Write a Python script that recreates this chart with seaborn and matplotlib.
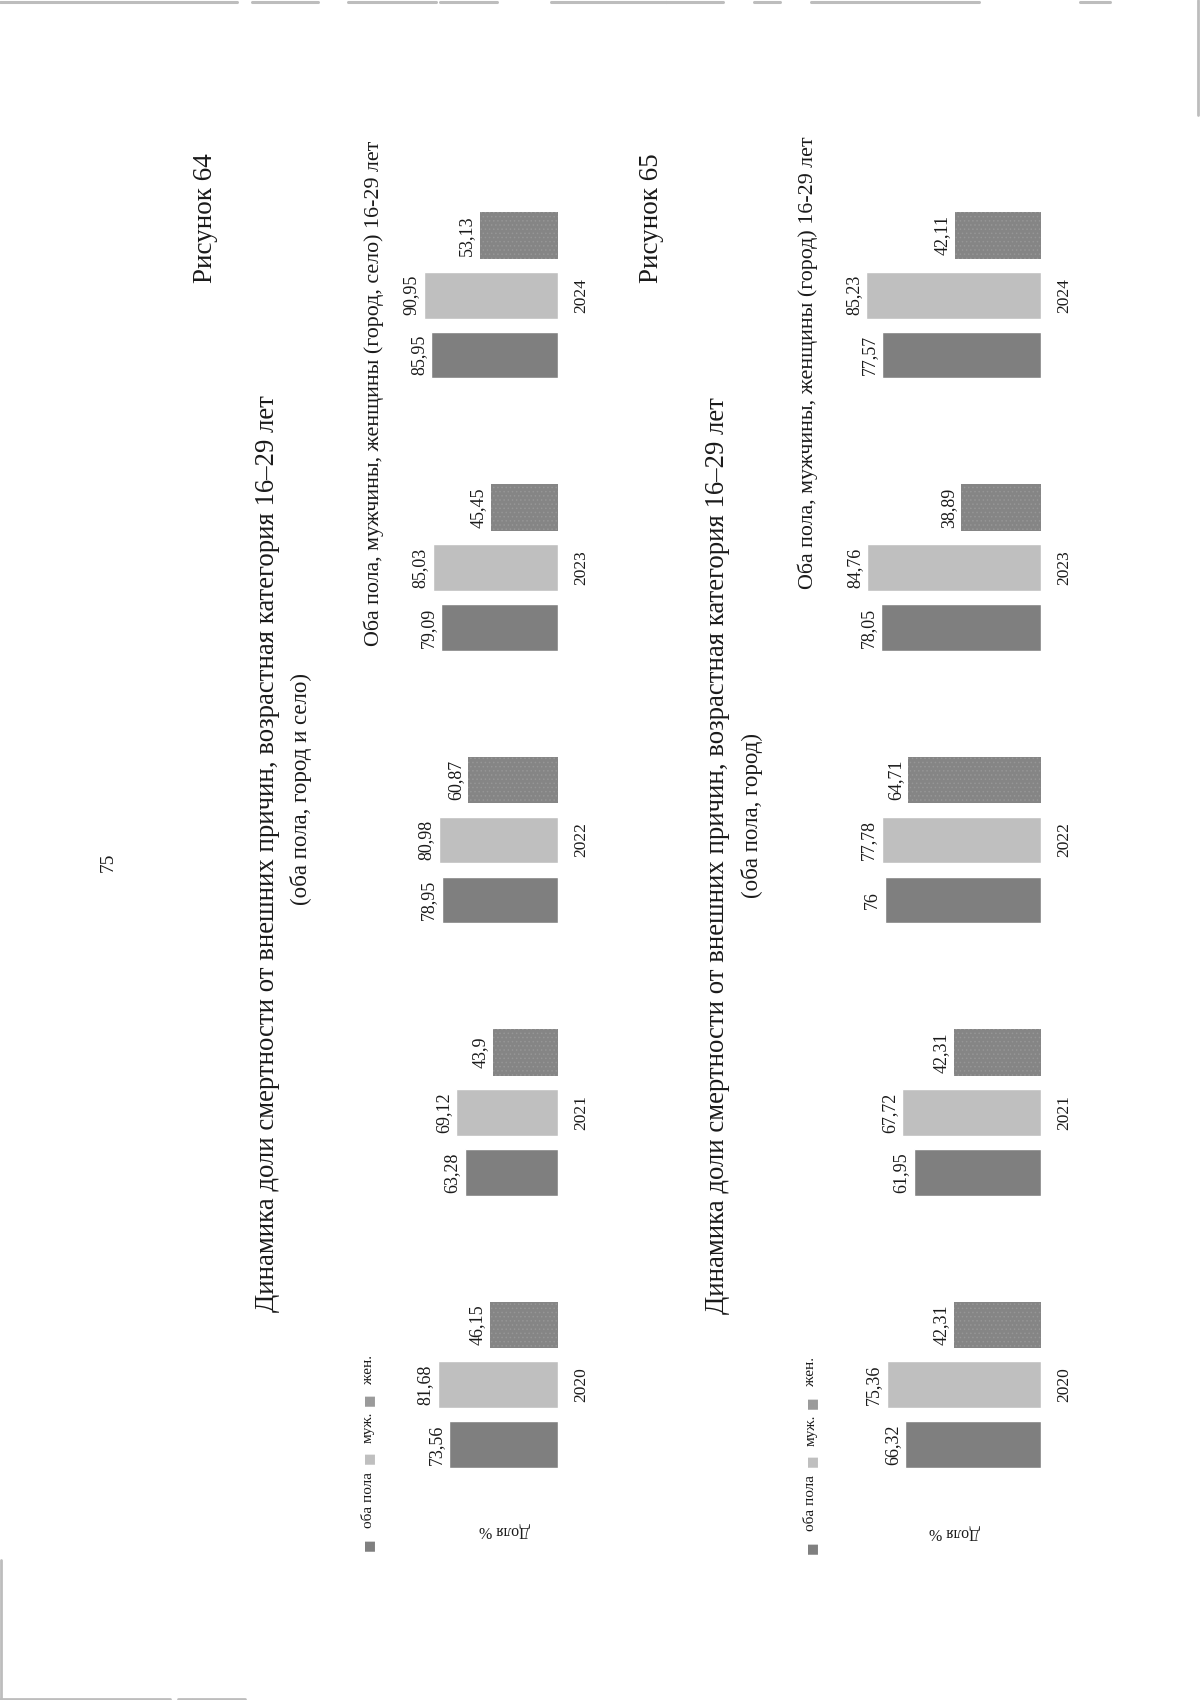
import matplotlib
matplotlib.use('Agg')
import matplotlib.pyplot as plt
import seaborn as sns
import pandas as pd
from matplotlib.lines import Line2D

# данные рисунков 64 и 65
years = ['2020', '2021', '2022', '2023', '2024']
groups = ['оба пола', 'муж.', 'жен.']

# Рисунок 64 (город и село)
both_64 = [73.56, 63.28, 78.95, 79.09, 85.95]
men_64 = [81.68, 69.12, 80.98, 85.03, 90.95]
women_64 = [46.15, 43.9, 60.87, 45.45, 53.13]

# Рисунок 65 (город)
both_65 = [66.32, 61.95, 76, 78.05, 77.57]
men_65 = [75.36, 67.72, 77.78, 84.76, 85.23]
women_65 = [42.31, 42.31, 64.71, 38.89, 42.11]

title_line1 = 'Динамика доли смертности от внешних причин, возрастная категория 16–29 лет'
title2_64 = '(оба пола, город и село)'
title2_65 = '(оба пола, город)'
sub_64 = 'Оба пола, мужчины, женщины (город, село) 16-29 лет'
sub_65 = 'Оба пола, мужчины, женщины (город) 16-29 лет'

colors = ['#7f7f7f', '#bfbfbf', '#858585']

sns.set_theme(style='white')
plt.rcParams['font.family'] = ['Liberation Serif', 'DejaVu Serif']
plt.rcParams['hatch.linewidth'] = 0.6

W, H = 1200, 1700
fig = plt.figure(figsize=(12, 17), dpi=100)
fig.patch.set_facecolor('white')


def fx(x):
    return x / W


def fy(y):
    return 1 - y / H


def T(x, y, s, **kw):
    kw.setdefault('rotation', 90)
    kw.setdefault('ha', 'center')
    kw.setdefault('va', 'center')
    kw.setdefault('color', '#1a1a1a')
    return fig.text(fx(x), fy(y), s, **kw)


def fmt(v):
    return f'{v:g}'.replace('.', ',')


def make_df(both, men, women):
    rows = []
    for name, vals in zip(groups, [both, men, women]):
        for yr, v in zip(years, vals):
            rows.append({'year': yr, 'group': name, 'val': v})
    return pd.DataFrame(rows)


def draw(left, right, top, bottom, px_per_unit, both, men, women):
    ax = fig.add_axes([fx(left), fy(bottom), (right - left) / W, (bottom - top) / H])
    df = make_df(both, men, women)
    sns.barplot(data=df, x='val', y='year', hue='group', order=years, hue_order=groups,
                palette=colors, orient='h', width=0.66, gap=0.22, saturation=1,
                legend=False, ax=ax)
    # жен. - серый с мелкой светлой текстурой
    for bar in ax.containers[2]:
        bar.set_hatch('....')
        bar.set_edgecolor('#969696')
        bar.set_linewidth(0)
    ax.set_xlim((right - left) / px_per_unit, 0)
    ax.set_ylim(-0.5, 4.5)
    for s in ax.spines.values():
        s.set_visible(False)
    ax.set_xticks([])
    ax.set_xlabel('')
    ax.set_ylabel('')
    ax.set_facecolor('none')
    ax.yaxis.tick_right()
    ax.tick_params(axis='y', length=0, pad=11, labelsize=12.5, labelrotation=90,
                   labelcolor='#1a1a1a')
    for lab in ax.get_yticklabels():
        lab.set_va('center')
    for cont, vals in zip(ax.containers, [both, men, women]):
        ax.bar_label(cont, labels=[fmt(v) for v in vals], padding=3, rotation=90,
                     fontsize=13, color='#1a1a1a')
    return ax


def legend(x, y0):
    # y0 - положение нижнего квадрата
    items = [(0, 'оба пола', 36, colors[0]), (87, 'муж.', 22, colors[1]),
             (145, 'жен.', 22, '#9a9a9a')]
    for dy, txt, half, col in items:
        T(x, y0 - dy, '■', family=['DejaVu Sans'], fontsize=9.5, color=col)
        T(x, y0 - dy - 9 - half, txt, fontsize=11)


# Рисунок 64
draw(380, 558, 159, 1521, 1.475, both_64, men_64, women_64)
T(206, 153, 'Рисунок 64', va='top', fontsize=19.5)
T(268, 854, title_line1, fontsize=19.3)
T(301, 789, title2_64, fontsize=16.5)
T(374, 141, sub_64, va='top', fontsize=15.8)
legend(368, 1545)
T(505, 1530, 'Доля %', rotation=180, fontsize=11.5)

# Рисунок 65
draw(820, 1041, 159, 1521, 2.05, both_65, men_65, women_65)
T(651, 153, 'Рисунок 65', va='top', fontsize=19.5)
T(717, 856, title_line1, fontsize=19.3)
T(752, 816, title2_65, fontsize=16.5)
T(808, 136, sub_65, va='top', fontsize=15.8)
legend(811, 1548)
T(954, 1532, 'Доля %', rotation=180, fontsize=11.5)

# номер страницы
T(108, 862, '75', fontsize=14)

# серые края скана
gray = '#bdbdbd'
for a, b in [(0, 237), (252, 318), (348, 436), (440, 497), (551, 666), (666, 723),
             (754, 780), (811, 979), (1080, 1110)]:
    fig.add_artist(Line2D([fx(a), fx(b)], [fy(1.5), fy(1.5)], color=gray, lw=2.2))
fig.add_artist(Line2D([fx(1198), fx(1198)], [fy(0), fy(115)], color=gray, lw=2))
fig.add_artist(Line2D([fx(1), fx(1)], [fy(1560), fy(1700)], color=gray, lw=2))
for a, b in [(0, 170), (178, 192), (193, 245)]:
    fig.add_artist(Line2D([fx(a), fx(b)], [fy(1698.5), fy(1698.5)], color=gray, lw=2))

fig.savefig('out.png', dpi=100, facecolor='white')
